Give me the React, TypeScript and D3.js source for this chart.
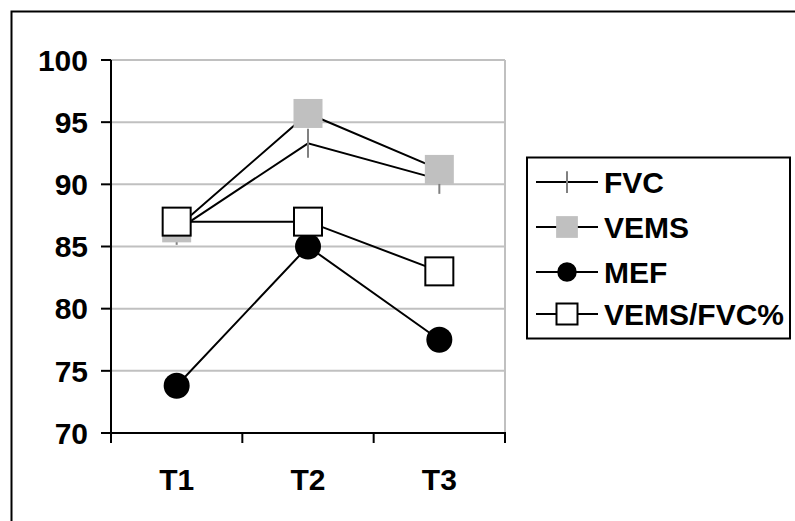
import React from "react";
import * as d3 from "d3";

const categories = ["T1", "T2", "T3"];
const fvc = [86.3, 93.3, 90.4];
const vems = [86.5, 95.7, 91.2];
const mef = [73.8, 85.0, 77.5];
const vemsFvc = [87.0, 87.0, 83.0];
const yTicks = [70, 75, 80, 85, 90, 95, 100];
const seriesNames = ["FVC", "VEMS", "MEF", "VEMS/FVC%"];

const W = 795;
const H = 521;
const plot = { left: 111, right: 505, top: 60, bottom: 433 };
const font = "Liberation Sans, Arial, sans-serif";

type Kind = "dash" | "graySquare" | "circle" | "whiteSquare";

function Marker({ kind, x, y, s = 1 }: { kind: Kind; x: number; y: number; s?: number }) {
  if (kind === "dash")
    return <line x1={x} x2={x} y1={y - 14.5 * s} y2={y + 14.5 * s} stroke="#808080" strokeWidth={2} />;
  if (kind === "graySquare")
    return <rect x={x - 14.5 * s} y={y - 14.5 * s} width={29 * s} height={29 * s} fill="#c0c0c0" />;
  if (kind === "circle") return <circle cx={x} cy={y} r={13 * s} fill="#000" />;
  return (
    <rect x={x - 14 * s} y={y - 14 * s} width={28 * s} height={28 * s} fill="#fff" stroke="#000" strokeWidth={2} />
  );
}

export default function App() {
  const x = d3.scaleBand<string>().domain(categories).range([plot.left, plot.right]);
  const y = d3.scaleLinear().domain([70, 100]).range([plot.bottom, plot.top]);
  const cx = (c: string) => (x(c) as number) + x.bandwidth() / 2;

  const series: { values: number[]; kind: Kind }[] = [
    { values: fvc, kind: "dash" },
    { values: vems, kind: "graySquare" },
    { values: mef, kind: "circle" },
    { values: vemsFvc, kind: "whiteSquare" },
  ];

  const line = d3
    .line<number>()
    .x((_, i) => cx(categories[i]))
    .y((d) => y(d));

  const xEdges = [...categories.map((c) => x(c) as number), plot.right];
  const legendY = [182, 227, 272, 314];

  return (
    <svg
      width={W}
      height={H}
      style={{ position: "absolute", left: 0, top: 0, background: "#fff" }}
      fontFamily={font}
      fontWeight="bold"
    >
      <rect x={0} y={0} width={W} height={H} fill="#fff" />
      {/* outer frame */}
      <rect x={11.5} y={11.5} width={W + 20} height={H + 20} fill="none" stroke="#000" strokeWidth={2} />

      {/* gridlines */}
      {yTicks.slice(1).map((t) => (
        <line key={t} x1={plot.left} x2={plot.right} y1={y(t)} y2={y(t)} stroke="#c0c0c0" strokeWidth={2} />
      ))}
      <line x1={plot.right} x2={plot.right} y1={plot.top} y2={plot.bottom} stroke="#c0c0c0" strokeWidth={2} />

      {/* axes */}
      <line x1={plot.left} x2={plot.left} y1={plot.top} y2={plot.bottom} stroke="#000" strokeWidth={2} />
      <line x1={plot.left - 1} x2={plot.right + 1} y1={plot.bottom} y2={plot.bottom} stroke="#000" strokeWidth={2} />
      {yTicks.map((t) => (
        <g key={t}>
          <line x1={plot.left - 10} x2={plot.left} y1={y(t)} y2={y(t)} stroke="#000" strokeWidth={2} />
          <text x={88} y={y(t)} dy="0.36em" textAnchor="end" fontSize={30}>
            {t}
          </text>
        </g>
      ))}
      {xEdges.map((e, i) => (
        <line key={i} x1={e} x2={e} y1={plot.bottom} y2={plot.bottom + 10} stroke="#000" strokeWidth={2} />
      ))}
      {categories.map((c) => (
        <text key={c} x={cx(c)} y={490} textAnchor="middle" fontSize={30}>
          {c}
        </text>
      ))}

      {/* series */}
      {series.map((s, si) => (
        <g key={si}>
          <path d={line(s.values) as string} fill="none" stroke="#000" strokeWidth={2} />
          {s.values.map((v, i) => (
            <Marker key={i} kind={s.kind} x={cx(categories[i])} y={y(v)} />
          ))}
        </g>
      ))}

      {/* legend */}
      <rect x={527} y={157.5} width={263} height={181} fill="#fff" stroke="#000" strokeWidth={2} />
      {seriesNames.map((n, i) => (
        <g key={n}>
          <line x1={536} x2={598} y1={legendY[i]} y2={legendY[i]} stroke="#000" strokeWidth={2} />
          <Marker kind={series[i].kind} x={567} y={legendY[i]} s={0.75} />
          <text x={604} y={legendY[i]} dy="0.36em" fontSize={30}>
            {n}
          </text>
        </g>
      ))}
    </svg>
  );
}
